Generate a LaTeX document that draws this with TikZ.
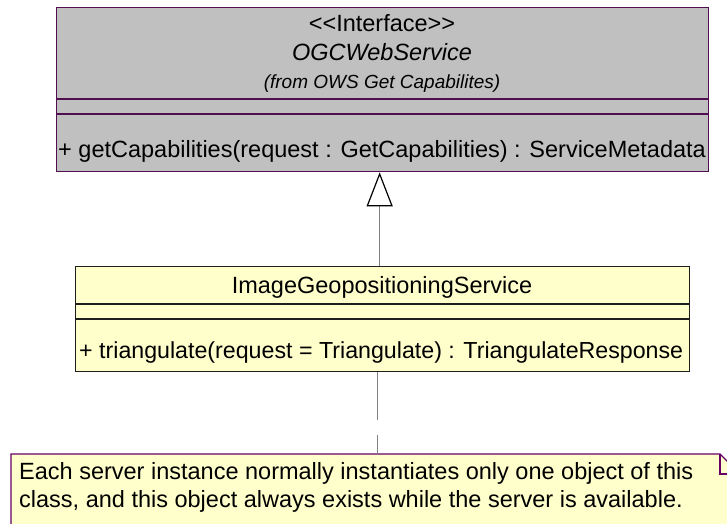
\documentclass[tikz,border=0pt]{standalone}
\usepackage{fontspec}
\setmainfont{Liberation Sans}
\usetikzlibrary{arrows.meta}
\definecolor{ifacefill}{RGB}{192,192,192}
\definecolor{ifaceline}{RGB}{80,16,80}
\definecolor{yelfill}{RGB}{255,255,204}
\definecolor{yelline}{RGB}{30,30,30}
\definecolor{noteline}{RGB}{102,0,102}
\definecolor{conn}{RGB}{128,128,128}
\tikzset{
  box/.style={draw, line width=1.3pt, inner sep=0pt, anchor=north west},
  txt/.style={inner sep=0pt, anchor=base, font=\fontsize{23.5}{28}\selectfont},
  txtl/.style={txt, anchor=base west},
  small/.style={inner sep=0pt, anchor=base, font=\fontsize{19}{22}\selectfont\itshape},
}
\begin{document}
\begin{tikzpicture}[x=1pt,y=-1pt]
\useasboundingbox (0,0) rectangle (727,523);
\clip (0,0) rectangle (727,523);
% interface box
\node[box, draw=ifaceline, fill=ifacefill, minimum width=652pt, minimum height=164pt] (iface) at (56,7) {};
\draw[ifaceline, line width=1.3pt] (56,99) -- (708,99) (56,114) -- (708,114);
\node[txt] (st) at (382,31) {<{}<Interface>{}>};
\node[txt, font=\fontsize{23.5}{28}\selectfont\itshape] (nm) at (382,60) {OGCWebService};
\node[small] (fr) at (382,88) {(from OWS Get Capabilites)};
\node[txtl] (op1) at (58,157) {+ getCapabilities(request : GetCapabilities) : ServiceMetadata};
% implementing class
\node[box, draw=yelline, fill=yelfill, minimum width=614pt, minimum height=105pt] (igs) at (75,266) {};
\draw[yelline, line width=1.3pt] (75,304) -- (689,304) (75,319) -- (689,319);
\node[txt] (nm2) at (382,293) {ImageGeopositioningService};
\node[txtl, font=\fontsize{23.2}{28}\selectfont] (op2) at (79,358) {+ triangulate(request = Triangulate) : TriangulateResponse};
% note
\node[inner sep=0pt, anchor=north west, minimum width=729pt, minimum height=90pt] (note) at (11,454) {};
\draw[noteline, fill=yelfill, line width=1.3pt] (note.north west) -- (720,454) -- (740,474) -- (note.south east) -- (note.south west) -- cycle;
\draw[noteline, line width=1.2pt] (720,454) -- (720,474) -- (740,474);
\node[txtl] (n1) at (19,479) {Each server instance normally instantiates only one object of this};
\node[txtl] (n2) at (19,507) {class, and this object always exists while the server is available.};
% realization arrow
\draw[conn, line width=1.5pt, -{Triangle[open, length=34pt, width=26pt, line width=1.2pt, color=black, fill=white]}]
  ([xshift=-3pt]igs.north) -- ([xshift=-3pt]iface.south);
% anchor line to note
\draw[conn, line width=1.5pt, dash pattern=on 48pt off 15pt]
  ([xshift=-5pt]igs.south) -- ([xshift=-5pt]igs.south |- note.north);
\end{tikzpicture}
\end{document}
